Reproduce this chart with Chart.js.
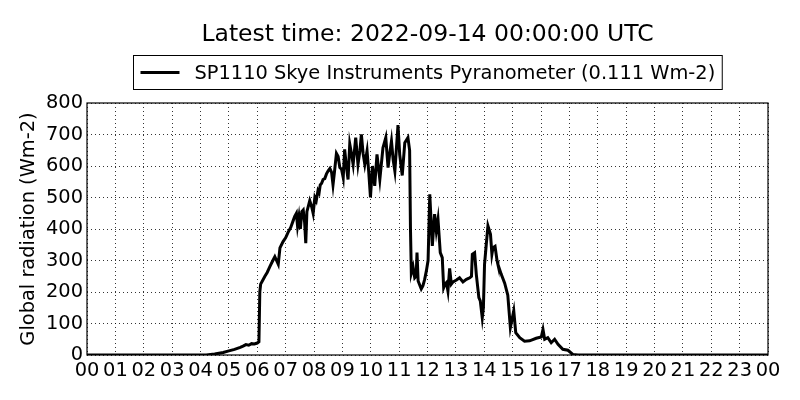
<!DOCTYPE html>
<html>
<head>
<meta charset="utf-8">
<title>Global radiation</title>
<script src="https://cdn.jsdelivr.net/npm/chart.js@4/dist/chart.umd.min.js"></script>
<style>
html, body { margin: 0; padding: 0; background: #fff; }
#wrap { width: 800px; height: 400px; }
</style>
</head>
<body>
<div id="wrap"><canvas id="chart" width="800" height="400"></canvas></div>
<script>
"use strict";

/* ── data ────────────────────────────────────────────────────────────────── */

var chartTitle  = "Latest time: 2022-09-14 00:00:00 UTC";
var seriesLabel = "SP1110 Skye Instruments Pyranometer (0.111 Wm-2)";
var yAxisTitle  = "Global radiation (Wm-2)";

// Hour of day (UTC) for each sample
var hours = [
    0, 4.0, 4.2, 4.5, 4.8, 5.0, 5.2, 5.4, 5.5, 5.6, 5.7, 5.8, 5.9, 6.0, 6.06,
    6.09, 6.12, 6.18, 6.27, 6.35, 6.44, 6.55, 6.62, 6.68, 6.74, 6.8, 6.91,
    7.0, 7.09, 7.18, 7.26, 7.32, 7.38, 7.42, 7.47, 7.52, 7.57, 7.62, 7.67,
    7.71, 7.75, 7.85, 7.92, 7.97, 8.03, 8.08, 8.14, 8.18, 8.22, 8.27, 8.32,
    8.38, 8.44, 8.50, 8.56, 8.62,
    8.67, 8.72, 8.79, 8.85, 8.91, 8.97, 9.03, 9.08, 9.14, 9.20, 9.26, 9.32,
    9.38, 9.47, 9.55, 9.62, 9.67, 9.73, 9.79, 9.87, 9.93, 9.99, 10.06, 10.14,
    10.22, 10.32, 10.43, 10.53, 10.61, 10.67, 10.73, 10.79, 10.85, 10.96,
    11.02, 11.11, 11.20, 11.31, 11.37, 11.40, 11.43, 11.49, 11.55, 11.60,
    11.63, 11.67, 11.78, 11.84, 11.90, 11.96, 12.02, 12.08, 12.13, 12.17,
    12.25, 12.31, 12.37, 12.45, 12.52, 12.57, 12.62, 12.67, 12.72, 12.78,
    12.84, 12.90, 13.02, 13.13, 13.25, 13.37, 13.49, 13.55, 13.58, 13.66,
    13.72, 13.81, 13.86, 13.93, 13.97, 14.01, 14.07, 14.13, 14.22, 14.27,
    14.31, 14.38, 14.45, 14.48, 14.60, 14.72, 14.83, 14.92, 15.04, 15.11,
    15.25, 15.42, 15.60, 15.83, 16.01, 16.07, 16.13, 16.24, 16.36, 16.48,
    16.60, 16.77, 16.95, 17.12, 17.3, 24
];

// Global radiation, Wm-2
var radiation = [
    0, 0, 0, 3, 8, 13, 18, 24, 28, 33, 31, 36, 35, 38, 42,
    200, 225, 235, 250, 262, 280, 300, 312, 300, 288, 340, 360,
    372, 390, 405, 425, 440, 450, 410, 440, 400, 455, 460, 420,
    355, 455, 490, 470, 450, 500, 490, 522, 515, 540, 545, 557,
    560, 575, 585, 592, 580,
    540, 580, 640, 630, 595, 590, 563, 653, 600, 557, 670, 640,
    605, 690, 605, 650, 700, 640, 605, 648, 580, 500, 600, 537,
    637, 557, 658, 690, 595, 640, 679, 620, 584, 730,
    637, 570, 674, 690, 650, 400, 260, 280, 245, 250,
    325, 235, 210, 220, 240, 267, 300, 510, 420, 346,
    447, 394, 431, 325, 309, 214, 225, 230, 203, 275,
    225, 232, 238, 245, 232, 240, 245, 250, 320, 325,
    256, 182, 172, 118, 150, 288, 350, 410, 383, 320,
    341, 345, 300, 288, 256, 228, 190, 87, 140, 71,
    55, 44, 45, 53, 57, 81, 50, 55, 39, 50,
    34, 18, 15, 2, 0, 0
];

// Axis ranges and tick steps
var xRange = [0, 24];
var yRange = [0, 800];
var xStep  = 1;
var yStep  = 100;

/* ── styling ─────────────────────────────────────────────────────────────── */

var FONT = "'DejaVu Sans', 'Liberation Sans', sans-serif";
var LABEL_SIZE = 19.4;
var TITLE_SIZE = 23.5;
Chart.defaults.font.family = FONT;
Chart.defaults.font.size   = LABEL_SIZE;
Chart.defaults.color       = "#000";

// Solid black frame round the plot area, drawn over the data like matplotlib's spines.
var framePlugin = {
    id: "frame",
    afterDatasetsDraw: function(chart) {
        var ctx = chart.ctx, a = chart.chartArea;
        ctx.save();
        ctx.strokeStyle = "#000";
        ctx.lineWidth = 1.2;
        ctx.strokeRect(a.left, a.top, a.right - a.left, a.bottom - a.top);
        ctx.restore();
    }
};

// Title and boxed legend, both centred over the plot area.
var headerPlugin = {
    id: "header",
    afterDraw: function(chart) {
        var ctx = chart.ctx, a = chart.chartArea;
        var cx = (a.left + a.right) / 2;
        var ds = chart.data.datasets[0];
        ctx.save();
        ctx.fillStyle = "#000";
        ctx.textAlign = "center";
        ctx.textBaseline = "middle";
        ctx.font = TITLE_SIZE + "px " + FONT;
        ctx.fillText(chartTitle, cx, 35);

        ctx.font = LABEL_SIZE + "px " + FONT;
        var tw = ctx.measureText(ds.label).width;
        var boxW = tw + 68, boxH = 34;
        var bx = Math.round(cx - boxW / 2) + 0.5, by = 55.5;
        ctx.strokeStyle = "#000";
        ctx.lineWidth = 1;
        ctx.strokeRect(bx, by, boxW, boxH);
        ctx.lineWidth = ds.borderWidth;
        ctx.beginPath();
        ctx.moveTo(bx + 7, by + boxH / 2);
        ctx.lineTo(bx + 46, by + boxH / 2);
        ctx.stroke();
        ctx.textAlign = "left";
        ctx.fillText(ds.label, bx + 61, by + boxH / 2 + 1);
        ctx.restore();
    }
};

/* ── chart ───────────────────────────────────────────────────────────────── */

var points = hours.map(function(h, i) { return { x: h, y: radiation[i] }; });

new Chart(document.getElementById("chart"), {
    type: "line",
    data: {
        datasets: [{
            label:       seriesLabel,
            data:        points,
            borderColor: "#000",
            borderWidth: 3,
            pointRadius: 0,
            tension:     0,
            fill:        false
        }]
    },
    options: {
        responsive: false,
        animation:  false,
        devicePixelRatio: 1,
        layout: { padding: { left: 15, right: 32, top: 103, bottom: 0 } },
        plugins: {
            legend:  { display: false },
            title:   { display: false },
            tooltip: { enabled: false }
        },
        scales: {
            x: {
                type: "linear",
                min: xRange[0],
                max: xRange[1],
                afterFit: function(scale) { scale.height = 45; },
                ticks: {
                    stepSize: xStep,
                    autoSkip: false,
                    maxRotation: 0,
                    padding: 4,
                    callback: function(v) {
                        var h = v % 24;
                        return (h < 10 ? "0" : "") + h;
                    }
                },
                grid:   { color: "#000", lineWidth: 0.8, drawTicks: false },
                border: { display: false, dash: [1, 3] }
            },
            y: {
                min: yRange[0],
                max: yRange[1],
                afterFit: function(scale) { scale.width = 72; },
                ticks: { stepSize: yStep, padding: 4 },
                title: {
                    display: true,
                    text: yAxisTitle,
                    font: { size: LABEL_SIZE },
                    padding: { top: 2, bottom: 0 }
                },
                grid:   { color: "#000", lineWidth: 0.8, drawTicks: false },
                border: { display: false, dash: [1, 3] }
            }
        }
    },
    plugins: [framePlugin, headerPlugin]
});
</script>
</body>
</html>
